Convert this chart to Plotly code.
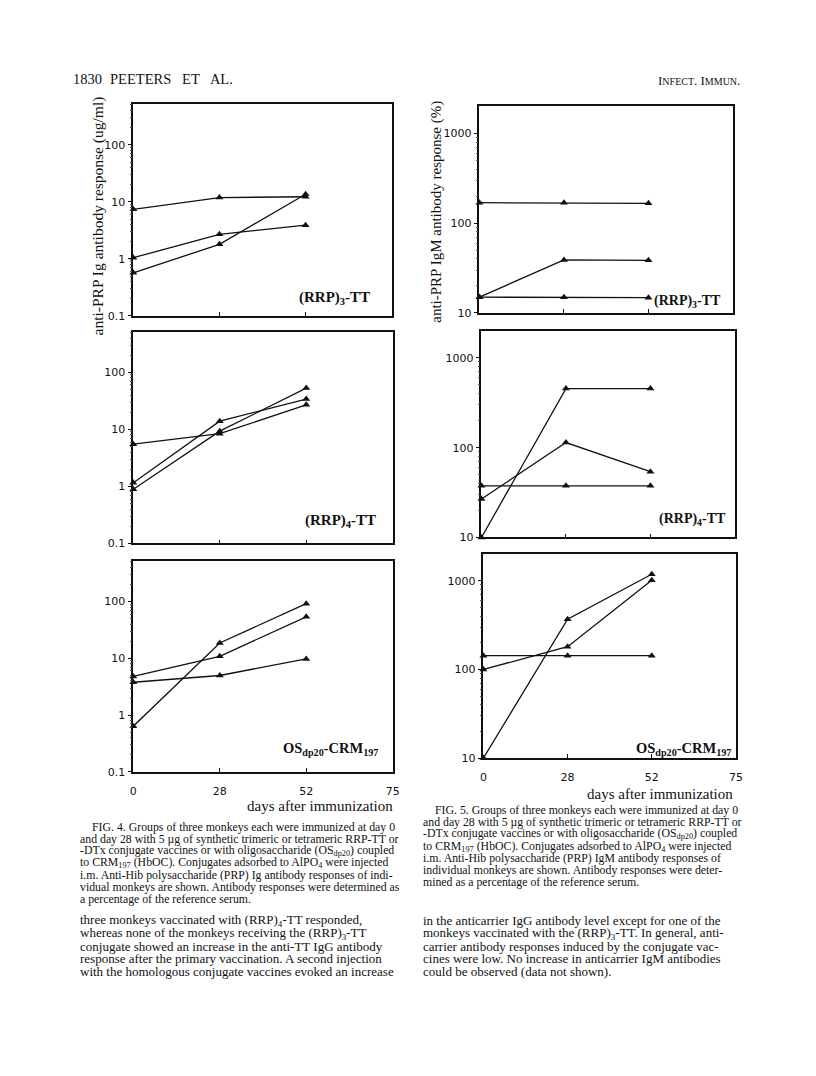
import plotly.graph_objects as go

# page is 816x1076; the browser adds an 8px body margin, so the figure is 800x1060
PAGE_OFF = 8
W, H = 800, 1060

# ---------------- data ----------------
day_categories = ["0", "28", "52", "75"]
days = ["0", "28", "52"]

# Fig. 4: anti-PRP Ig (ug/ml), one list per monkey
fig4_rrp3 = [[7.4, 11.9, 12.3], [1.05, 2.7, 3.9], [0.57, 1.8, 13.6]]
fig4_rrp4 = [[5.5, 8.4, 27.0], [1.16, 13.9, 34.0], [0.89, 9.3, 53.0]]
fig4_os = [[4.8, 10.9, 54.0], [3.8, 5.0, 9.8], [0.64, 18.7, 92.0]]

# Fig. 5: anti-PRP IgM (% of reference serum)
fig5_rrp3 = [[169, 169, 166], [15, 39, 38.6], [15, 15, 14.8]]
fig5_rrp4 = [[37.6, 37.6, 37.6], [26.8, 114, 54], [10, 454, 454]]
fig5_os = [[143, 143, 143], [100, 181, 1020], [10, 370, 1190]]

ig_ticks = [0.1, 1, 10, 100]
ig_ticktext = ["0.1", "1", "10", "100"]
igm_ticks = [10, 100, 1000]
igm_ticktext = ["10", "100", "1000"]

panel_labels = ["(RRP)<sub>3</sub>-TT", "(RRP)<sub>4</sub>-TT",
                "OS<sub>dp20</sub>-CRM<sub>197</sub>"]


def px(x):
    return (x - PAGE_OFF) / W


def py(y):
    return 1 - (y - PAGE_OFF) / H


# panel boxes in page pixels: (left, top, right, bottom)
boxes = [
    (131, 105, 393, 318), (131, 334, 394, 547), (131, 565, 394, 777),
    (482, 107, 739, 315), (484, 333, 741, 541), (486, 558, 742, 763),
]
panel_data = [fig4_rrp3, fig4_rrp4, fig4_os, fig5_rrp3, fig5_rrp4, fig5_os]

fig = go.Figure()
layout = {}

ig_minor = [m * 10 ** e for e in (-1, 0, 1, 2) for m in range(2, 10) if m * 10 ** e < 520]
igm_minor = [m * 10 ** e for e in (1, 2, 3) for m in range(2, 10) if m * 10 ** e < 2000]

for i, (box, series) in enumerate(zip(boxes, panel_data)):
    n = i + 1
    xa = "x" if n == 1 else f"x{n}"
    ya = "y" if n == 1 else f"y{n}"
    for s in series:
        fig.add_trace(go.Scatter(
            x=days, y=s, xaxis=xa, yaxis=ya, mode="lines+markers",
            line=dict(color="#111", width=1.3),
            marker=dict(symbol="triangle-up", size=7, color="#111"),
            cliponaxis=False, showlegend=False, hoverinfo="skip"))
    l, t, r, b = box
    bottom = (i % 3 == 2)
    is_ig = i < 3
    layout["xaxis" if n == 1 else f"xaxis{n}"] = dict(
        domain=[px(l), px(r)], anchor=ya, type="category",
        categoryorder="array", categoryarray=day_categories,
        range=[0, 3], showline=True, mirror=True, linecolor="#111",
        linewidth=1.6, ticks="inside", ticklen=4, tickcolor="#111",
        tickvals=day_categories, showticklabels=bottom,
        ticklabelstandoff=8,
        tickfont=dict(family="DejaVu Sans", size=11, color="#111"),
        showgrid=False, zeroline=False, fixedrange=True)
    layout["yaxis" if n == 1 else f"yaxis{n}"] = dict(
        domain=[py(b), py(t)], anchor=xa, type="log",
        range=[-1, 2.71] if is_ig else [1, 3.3],
        showline=True, mirror=True, linecolor="#111", linewidth=1.6,
        ticks="outside", ticklen=4, tickcolor="#111",
        tickvals=ig_ticks if is_ig else igm_ticks,
        ticktext=ig_ticktext if is_ig else igm_ticktext,
        minor=dict(tickvals=ig_minor if is_ig else igm_minor,
                   ticks="outside", ticklen=2, tickcolor="#555", tickwidth=1),
        tickfont=dict(family="DejaVu Sans", size=11, color="#111"),
        showgrid=False, zeroline=False, fixedrange=True)

serif = "Liberation Serif"
ann = []


def add_text(text, x, y, size, xanchor="left", angle=0, bold=False, dy=5, color="#111"):
    if angle == 0:
        y += dy
    if xanchor == "left":
        x -= 5
    ann.append(dict(
        text=f"<b>{text}</b>" if bold else text, x=px(x), y=py(y),
        xref="paper", yref="paper", xanchor=xanchor, yanchor="middle",
        showarrow=False, textangle=angle,
        font=dict(family=serif, size=size, color=color)))


# panel labels
label_pos = [(373, 299), (379, 523), (381, 753), (729, 302), (734, 522), (739, 753)]
label_size = [15, 15, 14.5, 14, 14, 14.5]
for i, (x, y) in enumerate(label_pos):
    add_text(panel_labels[i % 3], x, y, label_size[i], xanchor="right", bold=True, dy=1)

# axis titles
add_text("anti-PRP Ig antibody response (ug/ml)", 95, 217, 15.5, xanchor="center", angle=-90)
add_text("anti-PRP IgM antibody response (%)", 439, 213, 15, xanchor="center", angle=-90)
add_text("days after immunization", 396, 806, 15, xanchor="right")
add_text("days after immunization", 741, 794, 15, xanchor="right")

# running header
add_text("1830", 73, 74, 14.5)
add_text("PEETERS&nbsp;&nbsp; ET&nbsp;&nbsp; AL.", 110, 74, 14.5)
add_text("I<span style='font-size:10px'>NFECT</span>. I<span style='font-size:10px'>MMUN</span>.",
         748, 76, 13, xanchor="right")

# captions
cap4 = [
    "FIG. 4. Groups of three monkeys each were immunized at day 0",
    "and day 28 with 5 µg of synthetic trimeric or tetrameric RRP-TT or",
    "-DTx conjugate vaccines or with oligosaccharide (OS<sub>dp20</sub>) coupled",
    "to CRM<sub>197</sub> (HbOC). Conjugates adsorbed to AlPO<sub>4</sub> were injected",
    "i.m. Anti-Hib polysaccharide (PRP) Ig antibody responses of indi-",
    "vidual monkeys are shown. Antibody responses were determined as",
    "a percentage of the reference serum.",
]
cap5 = [
    "FIG. 5. Groups of three monkeys each were immunized at day 0",
    "and day 28 with 5 µg of synthetic trimeric or tetrameric RRP-TT or",
    "-DTx conjugate vaccines or with oligosaccharide (OS<sub>dp20</sub>) coupled",
    "to CRM<sub>197</sub> (HbOC). Conjugates adsorbed to AlPO<sub>4</sub> were injected",
    "i.m. Anti-Hib polysaccharide (PRP) IgM antibody responses of",
    "individual monkeys are shown. Antibody responses were deter-",
    "mined as a percentage of the reference serum.",
]
for k, line in enumerate(cap4):
    add_text(line, 92 if k == 0 else 80, 827 + k * 12.1, 11.8)
for k, line in enumerate(cap5):
    add_text(line, 440 if k == 0 else 428, 810 + k * 12.2, 11.8)

body_left = [
    "three monkeys vaccinated with (RRP)<sub>4</sub>-TT responded,",
    "whereas none of the monkeys receiving the (RRP)<sub>3</sub>-TT",
    "conjugate showed an increase in the anti-TT IgG antibody",
    "response after the primary vaccination. A second injection",
    "with the homologous conjugate vaccines evoked an increase",
]
body_right = [
    "in the anticarrier IgG antibody level except for one of the",
    "monkeys vaccinated with the (RRP)<sub>3</sub>-TT. In general, anti-",
    "carrier antibody responses induced by the conjugate vac-",
    "cines were low. No increase in anticarrier IgM antibodies",
    "could be observed (data not shown).",
]
for k, line in enumerate(body_left):
    add_text(line, 80, 922 + k * 12.7, 13)
for k, line in enumerate(body_right):
    add_text(line, 428, 922 + k * 12.7, 13)

fig.update_layout(
    width=W, height=H, margin=dict(l=0, r=0, t=0, b=0),
    paper_bgcolor="white", plot_bgcolor="white",
    annotations=ann, showlegend=False, **layout)

fig.write_html("out.html", config={"displayModeBar": False})
